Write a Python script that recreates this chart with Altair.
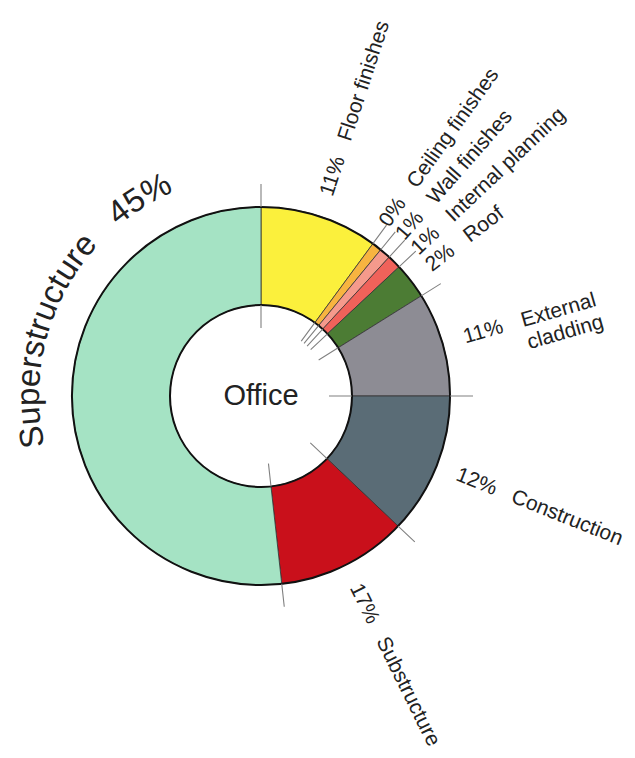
import math
import altair as alt
import pandas as pd

# ---- data ----
categories = ["Floor finishes", "Ceiling finishes", "Wall finishes", "Internal planning",
              "Roof", "External cladding", "Construction", "Substructure", "Superstructure"]
label_pct = [11, 0, 1, 1, 2, 11, 12, 17, 45]
# angular extent of each slice as drawn (degrees, clockwise from 12 o'clock)
arc_deg = [36.3, 3.0, 3.4, 4.2, 11.1, 32.0, 43.5, 40.2, 186.3]
colors = ["#fbf03c", "#f7b440", "#f59a8c", "#f0625a", "#4c7c34",
          "#8d8c94", "#5a6c76", "#c9101b", "#a5e3c4"]
center_label = "Office"

FONT = "Liberation Sans"
CX, CY = 253, 388
R_OUT, R_IN = 189, 91
R_LAB = 211
F_LAB = 21
GAP = "\u00a0\u00a0\u00a0"  # visible gap between percentage and name

df = pd.DataFrame({"cat": categories, "pct": label_pct, "deg": arc_deg, "color": colors})
df["end"] = df["deg"].cumsum()
df["start"] = df["end"] - df["deg"]
df["mid"] = (df["start"] + df["end"]) / 2

# spread label angles so neighbouring labels keep a minimum angular distance
MIN_SEP = 5.5
lab = list(df["mid"].iloc[:-1])
groups = [[i] for i in range(len(lab))]
pos_ = lab[:]
changed = True
while changed:
    changed = False
    for g in range(len(groups) - 1):
        a, b = groups[g], groups[g + 1]
        if pos_[b[0]] - pos_[a[-1]] < MIN_SEP:
            merged = a + b
            c = sum(lab[i] for i in merged) / len(merged)
            for k, i in enumerate(merged):
                pos_[i] = c + (k - (len(merged) - 1) / 2) * MIN_SEP
            groups[g:g + 2] = [merged]
            changed = True
            break
df["lab_th"] = pos_ + [df["mid"].iloc[-1]]
df["rot"] = (df["lab_th"] - 90) % 360
df["label"] = [f"{p}%{GAP}{c}" for p, c in zip(df["pct"], df["cat"])]

theta_scale = alt.Scale(domain=[0, 360], range=[0, 2 * math.pi])
pos = dict(x=alt.value(CX), y=alt.value(CY))

segments = alt.Chart(df).mark_arc(radius=R_OUT, radius2=R_IN, stroke="#333333",
                                  strokeWidth=0.8).encode(
    theta=alt.Theta("start:Q", scale=theta_scale, stack=None),
    theta2="end:Q",
    fill=alt.Fill("color:N", scale=None),
    **pos,
)

ring_df = pd.DataFrame({"start": [0.0], "end": [360.0]})
outline = alt.Chart(ring_df).mark_arc(radius=R_OUT, radius2=R_IN, filled=False,
                                      stroke="#111111", strokeWidth=2).encode(
    theta=alt.Theta("start:Q", scale=theta_scale, stack=None),
    theta2="end:Q",
    **pos,
)

ticks_out = alt.Chart(df).mark_arc(radius=R_OUT + 23, radius2=R_OUT, filled=False,
                                   stroke="#808080", strokeWidth=1.1).encode(
    theta=alt.Theta("start:Q", scale=theta_scale, stack=None),
    theta2="start:Q",
    **pos,
)
ticks_in = alt.Chart(df).mark_arc(radius=R_IN, radius2=R_IN - 23, filled=False,
                                  stroke="#808080", strokeWidth=1.1).encode(
    theta=alt.Theta("start:Q", scale=theta_scale, stack=None),
    theta2="start:Q",
    **pos,
)

small = df[df["cat"] != "Superstructure"].copy()
is_ext = small["cat"] == "External cladding"
small.loc[is_ext, "label"] = small.loc[is_ext, "pct"].astype(str) + "%"

labels = alt.Chart(small).mark_text(radius=R_LAB, align="left", baseline="middle",
                                    font=FONT, fontSize=F_LAB, color="#222222").encode(
    theta=alt.Theta("lab_th:Q", scale=theta_scale, stack=None),
    angle=alt.Angle("rot:Q", scale=None),
    text="label:N",
    **pos,
)

ext = df[df["cat"] == "External cladding"].copy()
ext["name2"] = ext["cat"].str.replace(" ", "\n")
ext_name = alt.Chart(ext).mark_text(radius=R_LAB, align="left", baseline="middle", dx=60,
                                    lineBreak="\n", lineHeight=23,
                                    font=FONT, fontSize=F_LAB, color="#222222").encode(
    theta=alt.Theta("lab_th:Q", scale=theta_scale, stack=None),
    angle=alt.Angle("rot:Q", scale=None),
    text="name2:N",
    **pos,
)

# curved label for the large slice, laid out character by character along the arc
ARIAL_W = {"S": .667, "u": .556, "p": .556, "e": .556, "r": .333, "s": .5, "t": .278,
           "c": .5, " ": .278, "%": .889}
sup = df[df["cat"] == "Superstructure"].iloc[0]
sup_str = f"{sup['cat']}   {sup['pct']}%"
F_SUP, R_SUP, TH0 = 33, 222, 257.0
rows, acc = [], 0.0
for ch in sup_str:
    w = ARIAL_W.get(ch, 0.556) * F_SUP
    th = TH0 + math.degrees((acc + w / 2) / R_SUP)
    acc += w
    if ch != " ":
        rows.append({"ch": ch, "th": th, "rot": th % 360})
sup_df = pd.DataFrame(rows)
sup_text = alt.Chart(sup_df).mark_text(radius=R_SUP, align="center", baseline="alphabetic",
                                       font=FONT, fontSize=F_SUP, color="#222222").encode(
    theta=alt.Theta("th:Q", scale=theta_scale, stack=None),
    angle=alt.Angle("rot:Q", scale=None),
    text="ch:N",
    **pos,
)

center = alt.Chart(pd.DataFrame({"t": [center_label]})).mark_text(
    font=FONT, fontSize=29, color="#222222", baseline="middle", align="center").encode(
    text="t:N", **pos)

chart = alt.layer(segments, outline, ticks_out, ticks_in, labels, ext_name, sup_text,
                  center).properties(
    width=619, height=742, padding=0, autosize="none",
).configure_view(stroke=None)

chart.save("out.html", embed_options={"renderer": "svg", "actions": False})
